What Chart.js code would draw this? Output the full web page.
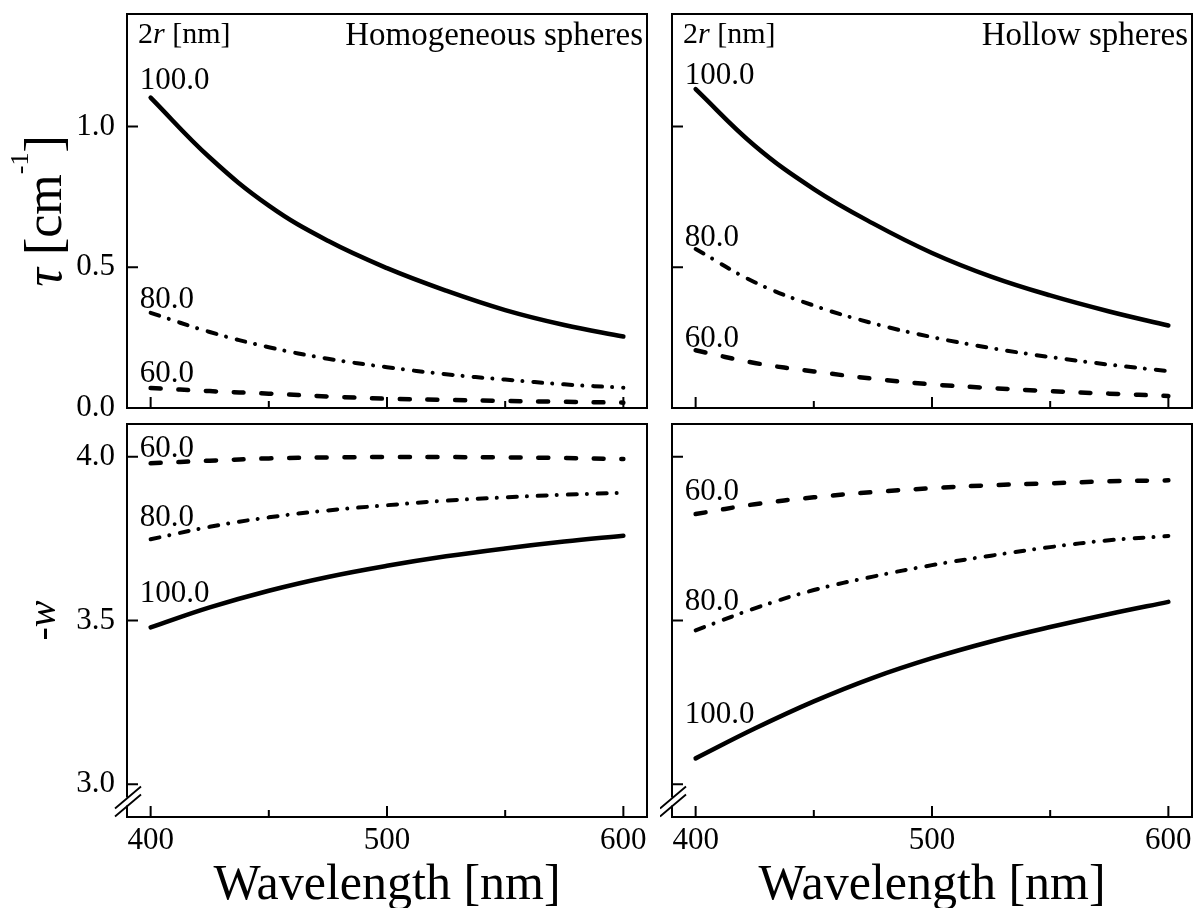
<!DOCTYPE html>
<html>
<head>
<meta charset="utf-8">
<script src="https://cdn.jsdelivr.net/npm/chart.js@4.4.1/dist/chart.umd.min.js"></script>
<style>
  html, body { margin: 0; padding: 0; background: #fff; overflow: hidden; }
  .panel { position: absolute; }
</style>
</head>
<body>
<div class="panel" style="left:0;top:0"><canvas id="homTau" width="660" height="425"></canvas></div>
<div class="panel" style="left:660px;top:0"><canvas id="holTau" width="537" height="425"></canvas></div>
<div class="panel" style="left:0;top:416px"><canvas id="homW" width="660" height="492"></canvas></div>
<div class="panel" style="left:660px;top:416px"><canvas id="holW" width="537" height="492"></canvas></div>
<script>
// wavelength grid [nm]
const wavelengths = [400, 425, 450, 475, 500, 525, 550, 575, 600];
const diameters = ['100.0', '80.0', '60.0'];

// tau [cm^-1]
const tauHom100 = [1.103, 0.890, 0.719, 0.594, 0.497, 0.417, 0.348, 0.295, 0.254];
const tauHom80 = [0.338, 0.270, 0.216, 0.175, 0.145, 0.120, 0.101, 0.084, 0.072];
const tauHom60 = [0.071, 0.060, 0.051, 0.041, 0.033, 0.029, 0.025, 0.022, 0.019];
const tauHol100 = [1.133, 0.932, 0.778, 0.656, 0.551, 0.467, 0.400, 0.343, 0.293];
const tauHol80 = [0.565, 0.447, 0.364, 0.301, 0.252, 0.213, 0.181, 0.154, 0.131];
const tauHol60 = [0.205, 0.160, 0.130, 0.104, 0.084, 0.071, 0.060, 0.051, 0.043];

// -w
const wHom100 = [3.479, 3.540, 3.591, 3.633, 3.667, 3.696, 3.720, 3.741, 3.759];
const wHom80 = [3.748, 3.786, 3.815, 3.836, 3.852, 3.866, 3.876, 3.884, 3.890];
const wHom60 = [3.980, 3.988, 3.995, 3.998, 3.999, 3.999, 3.998, 3.996, 3.993];
const wHol100 = [3.079, 3.170, 3.253, 3.325, 3.385, 3.436, 3.480, 3.520, 3.557];
const wHol80 = [3.470, 3.537, 3.593, 3.634, 3.669, 3.698, 3.724, 3.745, 3.758];
const wHol60 = [3.825, 3.855, 3.876, 3.892, 3.904, 3.913, 3.919, 3.925, 3.928];

// axis ticks
const xLabelTicks = [400, 500, 600];
const xMinorTicks = [450, 550];
const tauTicks = [0.0, 0.5, 1.0];
const wTicks = [3.0, 3.5, 4.0];

const FONT = "'Liberation Serif', 'Times New Roman', serif";
Chart.defaults.font.family = FONT;
Chart.defaults.color = '#000';

// solid / dash-dot / dashed for 100, 80, 60 nm
const lineStyles = [
  { borderDash: [], borderWidth: 4.5 },
  { borderDash: [9, 10, 0.01, 11], borderWidth: 4 },
  { borderDash: [10, 17.7], borderWidth: 4.5 }
];

// draws a run of text pieces with mixed italic / superscript
function drawRuns(ctx, runs, x, y, size, align) {
  const fontOf = r => (r.italic ? 'italic ' : '') + (r.size || size) + 'px ' + FONT;
  let total = 0;
  runs.forEach(r => { ctx.font = fontOf(r); total += ctx.measureText(r.text).width; });
  if (align === 'center') x -= total / 2;
  if (align === 'right') x -= total;
  ctx.textAlign = 'left';
  ctx.textBaseline = 'alphabetic';
  runs.forEach(r => {
    ctx.font = fontOf(r);
    ctx.fillText(r.text, x, y - (r.rise || 0));
    x += ctx.measureText(r.text).width;
  });
}

// frame, inward ticks, axis break and the in-panel text
const decor = {
  id: 'decor',
  afterDraw(chart, args, o) {
    const { ctx, chartArea: a, scales: { x, y } } = chart;
    ctx.save();
    ctx.strokeStyle = '#000';
    ctx.lineWidth = 2;
    ctx.strokeRect(a.left, a.top, a.right - a.left, a.bottom - a.top);

    ctx.beginPath();
    o.yMarks.forEach(v => {
      const p = y.getPixelForValue(v);
      ctx.moveTo(a.left, p);
      ctx.lineTo(a.left + 11, p);
    });
    xLabelTicks.forEach(v => {
      const p = x.getPixelForValue(v);
      ctx.moveTo(p, a.bottom);
      ctx.lineTo(p, a.bottom - 11);
    });
    xMinorTicks.forEach(v => {
      const p = x.getPixelForValue(v);
      ctx.moveTo(p, a.bottom);
      ctx.lineTo(p, a.bottom - 7);
    });
    ctx.stroke();

    if (o.axisBreak) {
      const bx = a.left, cy = a.bottom - 15.5;
      ctx.fillStyle = '#fff';
      ctx.fillRect(bx - 2, cy - 4, 4, 8);
      ctx.beginPath();
      [-4, 4].forEach(d => {
        ctx.moveTo(bx - 12, cy + d + 11);
        ctx.lineTo(bx + 14, cy + d - 11);
      });
      ctx.lineWidth = 1.8;
      ctx.stroke();
    }

    ctx.fillStyle = '#000';
    if (o.heading) {
      drawRuns(ctx, [{ text: '2' }, { text: 'r', italic: true }, { text: ' [nm]' }], a.left + 11, a.top + 29, 30, 'left');
      drawRuns(ctx, [{ text: o.heading }], a.right - 4, a.top + 31, 33, 'right');
    }

    // diameter next to the start of each curve
    chart.data.datasets.forEach((ds, i) => {
      const px = x.getPixelForValue(wavelengths[0]) - 11;
      const py = y.getPixelForValue(ds.data[0].y) - o.lift[i];
      drawRuns(ctx, [{ text: ds.label }], px, py, 31, 'left');
    });

    if (o.yTitle) {
      ctx.translate(o.yTitle.x, (a.top + a.bottom) / 2);
      ctx.rotate(-Math.PI / 2);
      drawRuns(ctx, o.yTitle.runs, 0, 0, o.yTitle.size, 'center');
    }
    ctx.restore();
  }
};

function makePanel(p) {
  const datasets = p.series.map((vals, i) => Object.assign({
    label: diameters[i],
    data: vals.map((v, k) => ({ x: wavelengths[k], y: v })),
    borderColor: '#000',
    borderCapStyle: 'round',
    borderJoinStyle: 'round',
    pointRadius: 0,
    tension: 0.4,
    fill: false
  }, lineStyles[i]));

  return new Chart(document.getElementById(p.id), {
    type: 'line',
    data: { datasets },
    plugins: [decor],
    options: {
      responsive: false,
      animation: false,
      devicePixelRatio: 1,
      layout: { padding: p.padding },
      plugins: {
        legend: { display: false },
        tooltip: { enabled: false },
        decor: { yMarks: p.yMarks, lift: p.lift, heading: p.heading, axisBreak: p.axisBreak, yTitle: p.yTitle }
      },
      scales: {
        x: {
          type: 'linear', min: 390, max: 610,
          grid: { display: false, drawTicks: false },
          border: { display: false },
          ticks: { display: p.xLabels, font: { size: 31 }, padding: 5, autoSkip: false, maxRotation: 0 },
          afterBuildTicks: s => { s.ticks = xLabelTicks.map(v => ({ value: v })); },
          title: { display: p.xLabels, text: 'Wavelength [nm]', font: { size: 50, lineHeight: 0.9 }, padding: 0 },
          afterFit: s => { s.height = p.xHeight; s.paddingLeft = 0; s.paddingRight = 0; }
        },
        y: {
          min: p.yMin, max: p.yMax,
          grid: { display: false, drawTicks: false },
          border: { display: false },
          ticks: { display: p.yLabels, font: { size: 31 }, padding: 12, callback: v => v.toFixed(1) },
          afterBuildTicks: s => { s.ticks = p.yTicks.map(v => ({ value: v })); },
          afterFit: s => { s.width = p.yWidth; s.paddingTop = 0; s.paddingBottom = 0; }
        }
      }
    }
  });
}

const tauTitle = { x: 61, size: 52, runs: [{ text: 'τ', italic: true }, { text: ' [cm' }, { text: '-1', size: 26, rise: 33 }, { text: ']' }] };
const wTitle = { x: 55, size: 40, runs: [{ text: '-' }, { text: 'w', italic: true }] };

makePanel({
  id: 'homTau', series: [tauHom100, tauHom80, tauHom60],
  yMin: 0, yMax: 1.4, yTicks: tauTicks, yMarks: [0.5, 1.0], yLabels: true, xLabels: false,
  yWidth: 127, xHeight: 17, padding: { left: 0, top: 14, right: 13, bottom: 0 },
  lift: [9, 5, 6], heading: 'Homogeneous spheres', axisBreak: false, yTitle: tauTitle
});
makePanel({
  id: 'holTau', series: [tauHol100, tauHol80, tauHol60],
  yMin: 0, yMax: 1.4, yTicks: tauTicks, yMarks: [0.5, 1.0], yLabels: false, xLabels: false,
  yWidth: 12, xHeight: 17, padding: { left: 0, top: 14, right: 5, bottom: 0 },
  lift: [5, 3, 3], heading: 'Hollow spheres', axisBreak: false, yTitle: null
});
makePanel({
  id: 'homW', series: [wHom100, wHom80, wHom60],
  yMin: 2.9, yMax: 4.1, yTicks: wTicks, yMarks: wTicks, yLabels: true, xLabels: true,
  yWidth: 127, xHeight: 91, padding: { left: 0, top: 8, right: 13, bottom: 0 },
  lift: [25, 13, 6], heading: null, axisBreak: true, yTitle: wTitle
});
makePanel({
  id: 'holW', series: [wHol100, wHol80, wHol60],
  yMin: 2.9, yMax: 4.1, yTicks: wTicks, yMarks: wTicks, yLabels: false, xLabels: true,
  yWidth: 12, xHeight: 91, padding: { left: 0, top: 8, right: 5, bottom: 0 },
  lift: [35, 20, 14], heading: null, axisBreak: true, yTitle: null
});
</script>
</body>
</html>
